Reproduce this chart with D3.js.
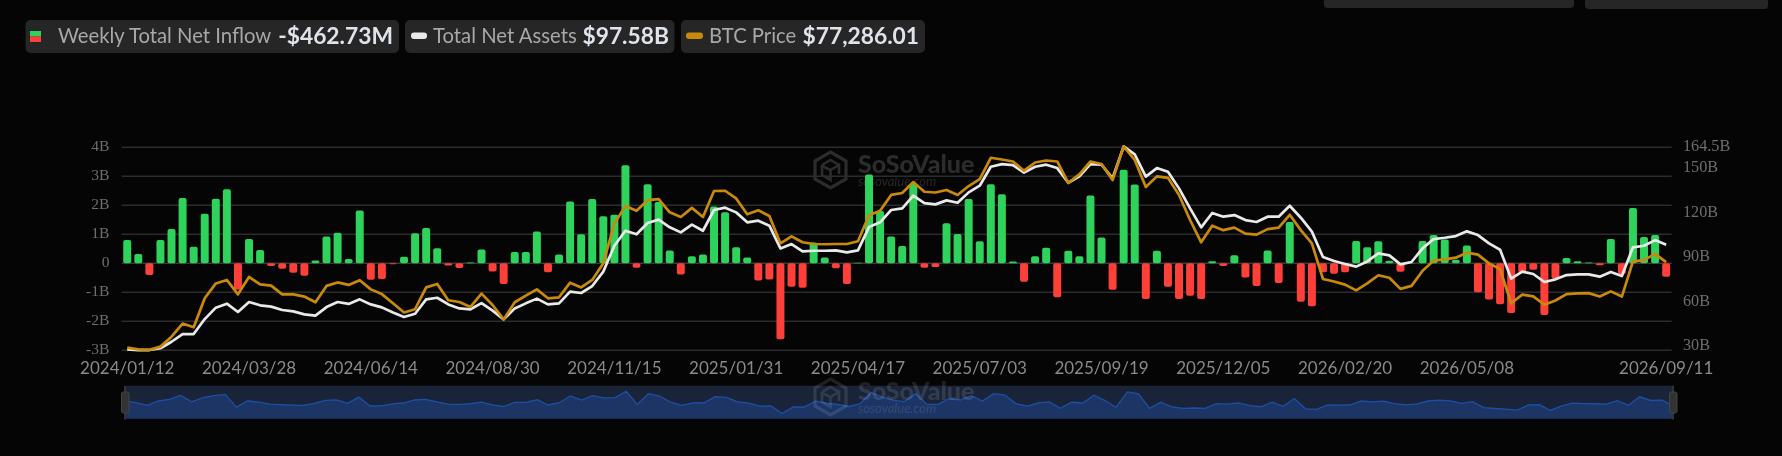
<!DOCTYPE html>
<html><head><meta charset="utf-8">
<style>html,body{margin:0;padding:0;background:#050505;overflow:hidden}svg{display:block;filter:blur(0.4px)}</style>
<script src="https://cdn.jsdelivr.net/npm/d3@7/dist/d3.min.js"></script>
</head><body><svg id="c" width="1782" height="456"></svg>
<script>
const categories = ["2024/01/12","2024/01/19","2024/01/26","2024/02/02","2024/02/09","2024/02/16","2024/02/23","2024/03/01","2024/03/08","2024/03/15","2024/03/22","2024/03/28","2024/04/05","2024/04/12","2024/04/19","2024/04/26","2024/05/03","2024/05/10","2024/05/17","2024/05/24","2024/05/31","2024/06/07","2024/06/14","2024/06/21","2024/06/28","2024/07/05","2024/07/12","2024/07/19","2024/07/26","2024/08/02","2024/08/09","2024/08/16","2024/08/23","2024/08/30","2024/09/06","2024/09/13","2024/09/20","2024/09/27","2024/10/04","2024/10/11","2024/10/18","2024/10/25","2024/11/01","2024/11/08","2024/11/15","2024/11/22","2024/11/29","2024/12/06","2024/12/13","2024/12/20","2024/12/27","2025/01/03","2025/01/10","2025/01/17","2025/01/24","2025/01/31","2025/02/07","2025/02/14","2025/02/21","2025/02/28","2025/03/07","2025/03/14","2025/03/21","2025/03/28","2025/04/04","2025/04/11","2025/04/17","2025/04/25","2025/05/02","2025/05/09","2025/05/16","2025/05/23","2025/05/30","2025/06/06","2025/06/13","2025/06/20","2025/06/27","2025/07/03","2025/07/11","2025/07/18","2025/07/25","2025/08/01","2025/08/08","2025/08/15","2025/08/22","2025/08/29","2025/09/05","2025/09/12","2025/09/19","2025/09/26","2025/10/03","2025/10/10","2025/10/17","2025/10/24","2025/10/31","2025/11/07","2025/11/14","2025/11/21","2025/11/28","2025/12/05","2025/12/12","2025/12/19","2025/12/26","2026/01/02","2026/01/09","2026/01/16","2026/01/23","2026/01/30","2026/02/06","2026/02/13","2026/02/20","2026/02/27","2026/03/06","2026/03/13","2026/03/20","2026/03/27","2026/04/03","2026/04/10","2026/04/17","2026/04/24","2026/05/01","2026/05/08","2026/05/15","2026/05/22","2026/05/29","2026/06/05","2026/06/12","2026/06/19","2026/06/26","2026/07/03","2026/07/10","2026/07/17","2026/07/24","2026/07/31","2026/08/07","2026/08/14","2026/08/21","2026/08/28","2026/09/04","2026/09/11"];
const xTickLabels = ["2024/01/12","2024/03/28","2024/06/14","2024/08/30","2024/11/15","2025/01/31","2025/04/17","2025/07/03","2025/09/19","2025/12/05","2026/02/20","2026/05/08","2026/09/11"];
const flowTicks = [-3,-2,-1,0,1,2,3,4];
const assetTicks = [30,60,90,120,150,164.5];
// weekly net inflow, $B
const netInflow = [0.8,0.32,-0.4,0.8,1.18,2.25,0.57,1.71,2.23,2.55,-0.9,0.84,0.46,-0.09,-0.19,-0.33,-0.43,0.1,0.92,1.05,0.15,1.82,-0.57,-0.54,-0.03,0.23,1.04,1.22,0.52,-0.08,-0.16,0.03,0.48,-0.28,-0.71,0.39,0.39,1.1,-0.31,0.3,2.13,1.0,2.22,1.62,1.67,3.38,-0.15,2.73,2.11,0.44,-0.39,0.24,0.3,1.96,1.76,0.55,0.2,-0.59,-0.56,-2.62,-0.81,-0.84,0.72,0.2,-0.17,-0.71,0.02,3.06,1.8,0.92,0.6,2.74,-0.15,-0.13,1.38,1.01,2.22,0.76,2.73,2.38,0.06,-0.64,0.24,0.54,-1.17,0.43,0.24,2.34,0.89,-0.91,3.23,2.72,-1.23,0.43,-0.81,-1.23,-1.12,-1.23,0.07,-0.09,0.28,-0.49,-0.78,0.44,-0.68,1.42,-1.33,-1.48,-0.31,-0.36,-0.31,0.77,0.55,0.76,0.09,-0.29,0.01,0.77,0.98,0.82,0.12,0.61,-1.0,-1.25,-1.41,-1.71,-0.31,-0.22,-1.78,-0.52,0.18,0.07,0.03,-0.07,0.84,-0.37,1.91,0.91,0.98,-0.46273];
// total net assets, $B
const netAssets = [27.1,26.6,26.6,27.8,32.2,37.4,37.4,47.5,55.2,57.9,52.3,59.0,56.8,55.9,53.6,52.7,50.7,49.8,55.6,59.0,57.7,60.8,57.4,55.4,52.0,48.9,51.1,60.8,61.9,57.4,54.7,54.1,58.3,53.2,47.3,54.7,58.1,61.3,57.4,58.1,66.0,65.1,69.8,79.5,97.0,107.1,104.7,112.3,114.6,109.4,106.0,111.2,107.1,121.1,122.7,119.5,112.8,113.9,110.5,95.2,98.1,93.2,93.6,93.6,93.9,92.5,93.9,109.6,112.8,121.1,122.2,130.8,125.8,124.9,127.6,126.0,133.0,137.5,150.3,152.1,151.4,146.3,150.3,151.7,149.4,139.5,143.8,152.1,151.7,142.5,164.0,158.6,143.6,149.4,146.9,135.7,122.2,109.4,119.1,116.6,117.7,114.3,113.0,116.6,116.6,124.0,115.9,106.5,89.4,86.7,84.7,82.9,86.4,91.8,90.5,84.4,86.0,95.2,101.5,102.4,103.5,106.7,104.2,98.6,94.3,74.8,79.5,77.9,72.5,74.3,77.2,77.7,77.7,76.1,79.3,76.6,95.9,97.0,100.8,97.58];
// BTC price, $K
const btcPrice = [42.8,42.1,41.9,43.2,47.2,52.5,51.0,62.7,68.7,70.1,64.3,71.3,68.3,67.8,64.3,64.3,63.4,61.1,67.7,69.1,68.1,70.0,66.3,64.4,60.7,57.0,58.3,67.1,68.5,61.9,61.2,59.2,64.6,60.0,54.2,61.1,63.8,66.3,62.7,63.1,69.0,67.1,70.1,76.8,92.9,99.9,98.0,102.3,102.7,97.4,95.5,99.2,95.5,106.0,106.1,103.0,96.6,98.2,95.9,84.9,87.7,85.3,84.6,84.5,84.6,84.6,85.7,96.2,98.0,104.4,105.2,109.6,105.7,105.4,106.4,104.4,108.0,110.8,119.4,118.7,117.9,114.2,117.5,118.3,117.9,109.3,112.7,117.9,116.9,110.4,124.0,118.5,107.6,111.9,111.3,104.4,94.3,85.3,92.0,90.2,91.2,88.8,88.4,90.6,91.2,96.4,90.2,84.9,70.5,69.5,68.2,65.9,68.7,72.0,71.0,66.5,67.7,73.8,77.9,78.4,79.1,81.1,80.3,76.8,74.5,60.7,64.2,63.5,60.1,61.8,64.4,64.7,64.8,63.4,65.5,63.4,77.6,78.1,80.6,77.286];

const svg = d3.select("#c");
const GREEN="#2fd35b", RED="#ff4038", ORANGE="#c98a0c", WHITE="#e9e9e9";
const SANS="Lato, sans-serif", SERIF="'Liberation Serif', serif";
svg.append("rect").attr("width",1782).attr("height",456).attr("fill","#050505");

// top-right clipped chips
[[1324,250,8],[1585,183,9]].forEach(([x,w,b])=>svg.append("rect").attr("x",x).attr("y",-10).attr("width",w).attr("height",b+10).attr("rx",4).attr("fill","#262626"));

// legend
const legends=[
 {x:25.5,w:373.5,label:"Weekly Total Net Inflow",lx:58,value:"-$462.73M",vx:393},
 {x:405,w:269.5,label:"Total Net Assets",lx:433,value:"$97.58B",vx:669},
 {x:681,w:244,label:"BTC Price",lx:709,value:"$77,286.01",vx:919}];
legends.forEach(d=>{
  svg.append("rect").attr("x",d.x).attr("y",20).attr("width",d.w).attr("height",33).attr("rx",5).attr("fill","#262626");
  svg.append("text").attr("x",d.lx).attr("y",42.5).attr("font-family",SANS).attr("font-size",20.3).attr("fill","#a8a8a8").text(d.label);
  svg.append("text").attr("x",d.vx).attr("y",43.5).attr("text-anchor","end").attr("font-family",SANS).attr("font-weight",700).attr("font-size",22.8).attr("fill","#dfe4ea").text(d.value);
});
svg.append("rect").attr("x",30).attr("y",31).attr("width",11).attr("height",5.5).attr("fill",GREEN);
svg.append("rect").attr("x",30).attr("y",36.5).attr("width",11).attr("height",5.5).attr("fill",RED);
svg.append("rect").attr("x",411).attr("y",32.5).attr("width",16).attr("height",6.5).attr("rx",3).attr("fill",WHITE);
svg.append("rect").attr("x",686).attr("y",32.5).attr("width",17).attr("height",6.5).attr("rx",3).attr("fill",ORANGE);

// scales
const L=121.7,R=1671.7;
const x=d3.scaleBand().domain(categories).range([L,R]).paddingInner(0.28).paddingOuter(0.14);
const cx=c=>x(c)+x.bandwidth()/2;
const yFlow=d3.scaleLinear().domain([-3,4]).range([350.3,147.3]);
const yAssets=d3.scaleLinear().domain([30,164.5]).range([345,145.7]);
const yBtc=d3.scaleLinear().domain([42,125]).range([349.6,143.9]);

// watermark
function watermark(g,top,fill,fillSmall){
  const h=[[830.5,top],[846,top+9],[846,top+27],[830.5,top+36],[815,top+27],[815,top+9]];
  g.append("path").attr("d",d3.line()(h)+"Z").attr("fill","none").attr("stroke",fill).attr("stroke-width",3.2);
  g.append("path").attr("d",`M822 ${top+13}L830.5 ${top+8}L839 ${top+13}M830.5 ${top+18}L839 ${top+13}L839 ${top+22}M822 ${top+13}L822 ${top+23}L830.5 ${top+28}L830.5 ${top+18}L822 ${top+14}`).attr("fill","none").attr("stroke",fill).attr("stroke-width",2.6);
  g.append("text").attr("x",858).attr("y",top+21).attr("font-family",SANS).attr("font-weight",900).attr("font-size",25).attr("fill",fill).text("SoSoValue");
  g.append("text").attr("x",858).attr("y",top+34).attr("font-family",SANS).attr("font-style","italic").attr("font-size",13).attr("fill",fillSmall).text("sosovalue.com");
}

// grid
svg.append("g").selectAll("line").data(flowTicks).join("line")
  .attr("x1",L).attr("x2",R).attr("y1",d=>yFlow(d)).attr("y2",d=>yFlow(d))
  .attr("stroke",d=>d===0?"#3a3a3a":"#2c2c2c").attr("stroke-width",1.4);
watermark(svg.append("g"),152,"#2c2c2c","#272727");

// axes
const axL=svg.append("g").attr("transform",`translate(${109.5},-1.5)`).call(d3.axisLeft(yFlow).tickValues(flowTicks).tickSize(0).tickPadding(0).tickFormat(d=>d===0?"0":d+"B"));
const axR=svg.append("g").attr("transform",`translate(${1683},-0.5)`).call(d3.axisRight(yAssets).tickValues(assetTicks).tickSize(0).tickPadding(0).tickFormat(d=>d+"B"));
[axL,axR].forEach(a=>{a.select(".domain").remove();a.selectAll("text").attr("font-family",SERIF).attr("font-size",15.6).attr("fill","#6e6e6e");});
axR.selectAll("text").attr("font-size",16.2);
const axX=svg.append("g").attr("transform","translate(0,361)").call(d3.axisBottom(x).tickValues(xTickLabels).tickSize(0).tickPadding(0));
axX.select(".domain").remove();
axX.selectAll("text").attr("font-family",SANS).attr("font-size",17).attr("fill","#8a8a8a").attr("dy","0.78em");

// bars
const rows=categories.map((c,i)=>({c,v:netInflow[i],a:netAssets[i],b:btcPrice[i]}));
svg.append("g").selectAll("rect").data(rows).join("rect")
  .attr("x",d=>x(d.c)).attr("width",x.bandwidth())
  .attr("y",d=>Math.min(yFlow(d.v),yFlow(0))).attr("height",d=>Math.abs(yFlow(d.v)-yFlow(0)))
  .attr("rx",2).attr("fill",d=>d.v>=0?GREEN:RED);

// lines
const lineA=d3.line().x(d=>cx(d.c)).y(d=>yAssets(d.a));
const lineB=d3.line().x(d=>cx(d.c)).y(d=>yBtc(d.b));
svg.append("path").datum(rows).attr("d",lineA).attr("fill","none").attr("stroke",WHITE).attr("stroke-width",2.7).attr("stroke-linejoin","round");
svg.append("path").datum(rows).attr("d",lineB).attr("fill","none").attr("stroke",ORANGE).attr("stroke-width",2.7).attr("stroke-linejoin","round");

// slider
const SL=125,SR=1673,ST=385.7,SB=419;
svg.append("rect").attr("x",SL).attr("y",ST).attr("width",SR-SL).attr("height",SB-ST).attr("fill","#1a2438");
const xm=d3.scalePoint().domain(categories).range([SL,SR]);
const ym=d3.scaleLinear().domain([-3,4]).range([415,389]);
svg.append("path").datum(rows).attr("d",d3.area().x(d=>xm(d.c)).y0(SB).y1(d=>ym(d.v))).attr("fill","#1c3565");
svg.append("path").datum(rows).attr("d",d3.line().x(d=>xm(d.c)).y(d=>ym(d.v))).attr("fill","none").attr("stroke","#1d4fa8").attr("stroke-width",1.3);
svg.append("line").attr("x1",SL).attr("x2",SR).attr("y1",SB-0.5).attr("y2",SB-0.5).attr("stroke","#1a2a4a");
watermark(svg.append("g"),379,"rgba(255,255,255,0.11)","rgba(255,255,255,0.10)");
[SL,SR].forEach(h=>{
  svg.append("line").attr("x1",h).attr("x2",h).attr("y1",ST).attr("y2",SB+0.5).attr("stroke","#333").attr("stroke-width",2);
  svg.append("rect").attr("x",h-3.5).attr("y",392).attr("width",7.5).attr("height",21).attr("rx",2).attr("fill","#333").attr("stroke","#444").attr("stroke-width",1);
});
</script></body></html>
